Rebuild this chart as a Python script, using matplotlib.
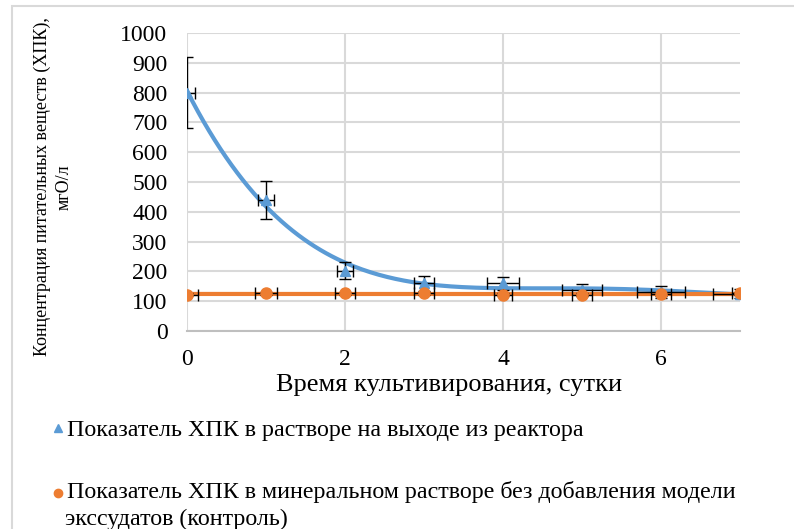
import numpy as np
import matplotlib
matplotlib.use("Agg")
from matplotlib import pyplot as plt
from matplotlib.lines import Line2D
import matplotlib.patches as mpatches

plt.rcParams['font.family'] = ['Liberation Serif', 'DejaVu Serif']

days = [0, 1, 2, 3, 4, 5, 6, 7]
reactor = [800, 440, 203, 160, 160, 137, 132, 125]
reactor_yerr = [118, 65, 27, 25, 22, 20, 20, 15]
reactor_xerr = [0.1, 0.1, 0.1, 0.13, 0.2, 0.25, 0.3, 0.34]
control = [121, 127, 127, 126, 121, 121, 124, 126]
control_yerr = [5, 5, 5, 5, 5, 5, 5, 5]
control_xerr = [0.14, 0.14, 0.13, 0.13, 0.12, 0.13, 0.13, 0.1]

label_reactor = "Показатель ХПК в растворе на выходе из реактора"
label_control = ["Показатель ХПК в минеральном растворе без добавления модели",
                 "экссудатов (контроль)"]

blue = '#5b9bd5'
orange = '#ed7d31'
W, H = 794, 529

fig = plt.figure()
fig.set_dpi(100)
fig.set_size_inches(7.94, 5.29)
ax = fig.add_axes([0.2355, 0.3743, 0.6965, 0.5633])

# trendlines (polynomial, like the spreadsheet)
xs = np.linspace(0, 7, 200)
ax.plot(xs, np.polyval(np.polyfit(days, reactor, 4), xs), color=blue, lw=3, zorder=3)
ax.plot(xs, np.polyval(np.polyfit(days, control, 2), xs), color=orange, lw=3, zorder=3)

ax.errorbar(days, reactor, yerr=reactor_yerr, xerr=reactor_xerr, fmt='^', color=blue,
            ms=7, ecolor='black', elinewidth=1, capsize=4, zorder=4)
ax.errorbar(days, control, yerr=control_yerr, xerr=control_xerr, fmt='o', color=orange,
            ms=8, ecolor='black', elinewidth=1, capsize=4, zorder=4)

ax.set_xlim(0, 7)
ax.set_ylim(0, 1000)
ax.set_xticks([0, 2, 4, 6])
ax.set_yticks(range(0, 1001, 100))
ax.grid(True, color='#d9d9d9', lw=1.5)
ax.set_axisbelow(True)
for s in ['top', 'right', 'left']:
    ax.spines[s].set_visible(False)
ax.spines['bottom'].set_color('#bfbfbf')
ax.spines['bottom'].set_linewidth(1.5)
ax.tick_params(length=0, labelsize=17)
ax.tick_params(axis='x', pad=13)
ax.tick_params(axis='y', pad=14)

fig.text(449 / W, 1 - 382 / H, "Время культивирования, сутки", fontsize=19,
         ha='center', va='center_baseline')
fig.text(53 / W, 1 - 187 / H, "Концентрация питательных веществ (ХПК),\nмгО/л",
         fontsize=13, rotation=90, ha='center', va='center', multialignment='center',
         linespacing=1.4)

# legend
fig.add_artist(Line2D([58 / W], [1 - 428 / H], marker='^', color=blue, ms=6, ls='none'))
fig.text(67 / W, 1 - 436 / H, label_reactor, fontsize=17.3, va='baseline')
fig.add_artist(Line2D([58 / W], [1 - 493 / H], marker='o', color=orange, ms=6, ls='none'))
fig.text(67 / W, 1 - 498 / H, label_control[0], fontsize=17.3, va='baseline')
fig.text(65 / W, 1 - 525 / H, label_control[1], fontsize=17.3, va='baseline')

fig.patches.append(mpatches.Rectangle((12 / W, -0.1), 1.2, 1 - 6 / H + 0.1,
                                      transform=fig.transFigure, fill=False,
                                      edgecolor='#d9d9d9', lw=1.5))

fig.savefig('out.png')
